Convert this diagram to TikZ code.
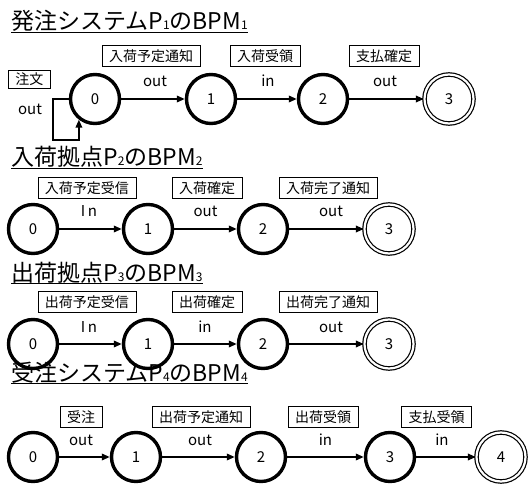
\documentclass[tikz,border=0pt]{standalone}
\usepackage{fontspec}
\setmainfont{Noto Sans CJK JP}
\usetikzlibrary{arrows.meta}
\newcommand{\sbs}[1]{{\fontsize{12}{12}\selectfont #1}}
\begin{document}
\begin{tikzpicture}[x=1pt,y=-1pt,
  st/.style={circle, draw, line width=3.4pt, minimum size=49pt, inner sep=0pt, font=\fontsize{15}{15}\selectfont},
  fin/.style={circle, draw, double, double distance=2.2pt, line width=1.2pt, minimum size=49pt, inner sep=0pt, font=\fontsize{15}{15}\selectfont},
  arr/.style={line width=1.8pt, -{Triangle[length=8pt,width=6.5pt]}},
  lbox/.style={draw, line width=0.8pt, inner xsep=7pt, inner ysep=0pt, minimum height=21pt, font=\fontsize{14}{14}\selectfont},
  lbl/.style={anchor=base, inner sep=0pt, font=\fontsize{15}{15}\selectfont},
  ttl/.style={anchor=base west, inner sep=0pt, font=\fontsize{23}{23}\selectfont},
  uline/.style={line width=0.9pt}]
\useasboundingbox (0,0) rectangle (528,484);

% ---------- Section 1 ----------
\node[ttl] (t1) at (11,30) {発注システムP\sbs{1}のBPM\sbs{1}};
\draw[uline] ([yshift=-2.5pt]t1.base west) -- ([yshift=-2.5pt]t1.base east);
\node[st] (a0) at (95,99) {0};
\node[st] (a1) at (211,99) {1};
\node[st] (a2) at (323,99) {2};
\node[fin] (a3) at (449,99) {3};
\node[lbox] (ab1) at (151,56) {入荷予定通知};
\node[lbox] (ab2) at (265,56) {入荷受領};
\node[lbox] (ab3) at (384,56) {支払確定};
\node[lbox, minimum height=18pt] (ab0) at (29.5,79.5) {注文};
\node[lbl] (al0) at (30,115) {out};
\node[lbl] (al1) at (155,87) {out};
\node[lbl] (al2) at (268,87) {in};
\node[lbl] (al3) at (385,87) {out};
\coordinate (lp1) at (53,99);
\coordinate (lp2) at (53,140);
\coordinate (lp3) at (79,140);
\draw[arr] (a0.west) -- (lp1) -- (lp2) -- (lp3) -- (a0.232);
\draw[arr] (a0) -- (a1);
\draw[arr] (a1) -- (a2);
\draw[arr] (a2) -- (a3);

% ---------- Section 2 ----------
\node[ttl] (t2) at (11,166) {入荷拠点P\sbs{2}のBPM\sbs{2}};
\draw[uline] ([yshift=-2.5pt]t2.base west) -- ([yshift=-2.5pt]t2.base east);
\node[st] (b0) at (33,229) {0};
\node[st] (b1) at (148,229) {1};
\node[st] (b2) at (263,229) {2};
\node[fin] (b3) at (389,229) {3};
\node[lbox] (bb1) at (87,188) {入荷予定受信};
\node[lbox] (bb2) at (207,188) {入荷確定};
\node[lbox] (bb3) at (328,188) {入荷完了通知};
\node[lbl] (bl1) at (89,217) {I\,n};
\node[lbl] (bl2) at (205.5,217) {out};
\node[lbl] (bl3) at (331,217) {out};
\draw[arr] (b0) -- (b1);
\draw[arr] (b1) -- (b2);
\draw[arr] (b2) -- (b3);

% ---------- Section 3 ----------
\node[ttl] (t3) at (11,281) {出荷拠点P\sbs{3}のBPM\sbs{3}};
\draw[uline] ([yshift=-2.5pt]t3.base west) -- ([yshift=-2.5pt]t3.base east);
\node[st] (c0) at (33,344) {0};
\node[st] (c1) at (148,344) {1};
\node[st] (c2) at (263,344) {2};
\node[fin] (c3) at (389,344) {3};
\node[lbox] (cb1) at (87,302) {出荷予定受信};
\node[lbox] (cb2) at (207,302) {出荷確定};
\node[lbox] (cb3) at (328,302) {出荷完了通知};
\node[lbl] (cl1) at (89,332) {I\,n};
\node[lbl] (cl2) at (205,332) {in};
\node[lbl] (cl3) at (331,332) {out};
\draw[arr] (c0) -- (c1);
\draw[arr] (c1) -- (c2);
\draw[arr] (c2) -- (c3);

% ---------- Section 4 ----------
\node[ttl] (t4) at (11,381) {受注システムP\sbs{4}のBPM\sbs{4}};
\draw[uline] ([yshift=-2.5pt]t4.base west) -- ([yshift=-2.5pt]t4.base east);
\node[st] (d0) at (33,457) {0};
\node[st] (d1) at (136,457) {1};
\node[st] (d2) at (261,457) {2};
\node[st] (d3) at (390,457) {3};
\node[fin] (d4) at (501,457) {4};
\node[lbox] (db1) at (81,417) {受注};
\node[lbox] (db2) at (201,417) {出荷予定通知};
\node[lbox] (db3) at (323,417) {出荷受領};
\node[lbox] (db4) at (436.5,417) {支払受領};
\node[lbl] (dl1) at (81,445) {out};
\node[lbl] (dl2) at (200,445) {out};
\node[lbl] (dl3) at (325.5,445) {in};
\node[lbl] (dl4) at (442,445) {in};
\draw[arr] (d0) -- (d1);
\draw[arr] (d1) -- (d2);
\draw[arr] (d2) -- (d3);
\draw[arr] (d3) -- (d4);
\end{tikzpicture}
\end{document}
